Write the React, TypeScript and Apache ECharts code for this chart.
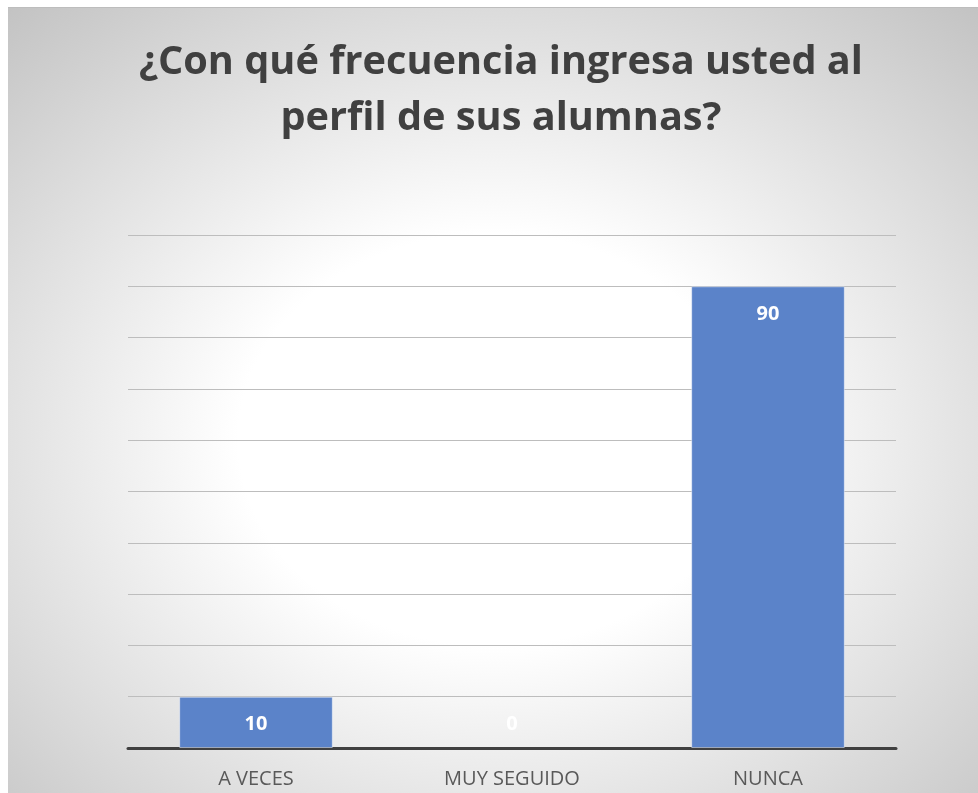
import React, { useEffect, useRef } from "react";
import * as echarts from "echarts";

const titleText = "¿Con qué frecuencia ingresa usted al\nperfil de sus alumnas?";
const categories = ["A VECES", "MUY SEGUIDO", "NUNCA"];
const values = [10, 0, 90];

export default function App() {
  const ref = useRef<HTMLDivElement>(null);
  useEffect(() => {
    if (!ref.current) return;
    const chart = echarts.init(ref.current, null, { renderer: "svg" });
    chart.setOption({
      animation: false,
      backgroundColor: {
        type: "radial",
        x: 0.5,
        y: 0.55,
        r: 0.75,
        colorStops: [
          { offset: 0, color: "#ffffff" },
          { offset: 0.35, color: "#ffffff" },
          { offset: 1, color: "#c2c2c2" },
        ],
      },
      title: {
        text: titleText,
        left: 488,
        textAlign: "center",
        top: 18,
        textStyle: {
          fontFamily: "Open Sans",
          fontWeight: "bold",
          fontSize: 39.7,
          lineHeight: 56,
          color: "#404040",
        },
      },
      grid: { left: 120, right: 82, top: 227, bottom: 45 },
      xAxis: {
        type: "category",
        data: categories,
        axisLine: { lineStyle: { color: "#404040", width: 3 } },
        axisTick: { show: false },
        axisLabel: {
          fontFamily: "Open Sans",
          fontSize: 20,
          color: "#595959",
          margin: 19,
        },
      },
      yAxis: {
        type: "value",
        min: 0,
        max: 100,
        interval: 10,
        axisLabel: { show: false },
        axisLine: { show: false },
        axisTick: { show: false },
        splitLine: { lineStyle: { color: "#bdbdbd", width: 1 } },
      },
      series: [
        {
          type: "bar",
          data: values.map((v) =>
            v === 0
              ? {
                  value: v,
                  itemStyle: { borderWidth: 0 },
                  label: { position: "insideBottom", distance: 16 },
                }
              : v
          ),
          barWidth: "60%",
          itemStyle: {
            color: "#5b83c9",
            borderColor: "rgba(255,255,255,0.45)",
            borderWidth: 1,
          },
          label: {
            show: true,
            position: "insideTop",
            distance: 16,
            fontFamily: "Open Sans",
            fontWeight: "bold",
            fontSize: 20,
            color: "#ffffff",
          },
        },
      ],
    });
    return () => chart.dispose();
  }, []);
  return (
    <div
      ref={ref}
      style={{
        position: "fixed",
        left: 8,
        top: 7,
        width: 970,
        height: 786,
        borderTop: "1px solid #bdbdbd",
        boxSizing: "border-box",
      }}
    />
  );
}
